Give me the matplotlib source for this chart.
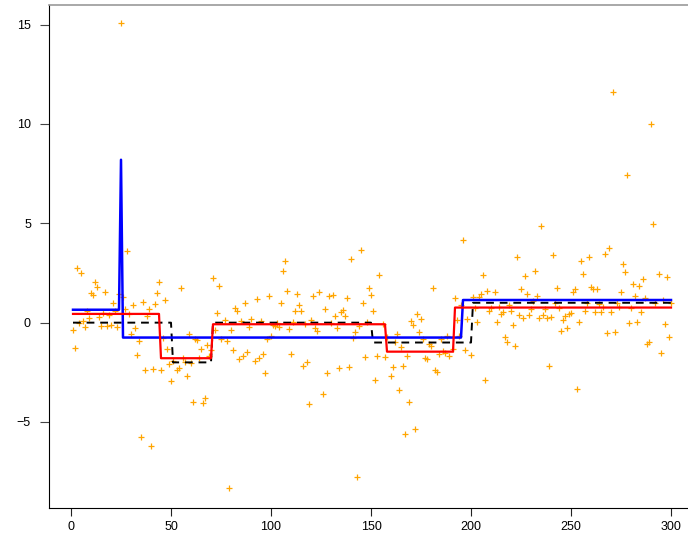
import matplotlib
matplotlib.use("Agg")
import matplotlib.pyplot as plt
import numpy as np

obs_x = [1, 2, 3, 4, 5, 6, 7, 8, 9, 10, 11, 12, 13, 14, 15, 16, 17, 18, 19, 20,
         21, 22, 23, 24, 25, 26, 27, 28, 29, 30, 31, 32, 33, 34, 35, 36, 37, 38, 39, 40,
         41, 42, 43, 44, 45, 46, 47, 48, 49, 50,
         51, 53, 54, 55, 56, 57, 58, 59, 60, 61, 62, 63, 64, 65, 66, 67, 68, 69, 70,
         71, 72, 73, 74, 75, 77, 78, 79, 80, 81, 82, 83, 84, 85, 86, 87, 88, 89, 90,
         92, 93, 94, 95, 96, 97, 98, 99, 100,
         101, 102, 103, 104, 105, 106, 107, 108, 109, 110, 111, 112, 113, 114, 115, 116,
         117, 118, 119, 120, 121, 122, 123, 124, 126, 127, 128, 129, 130, 131, 132, 133,
         134, 135, 136, 137, 138, 139, 140, 141, 142, 143, 144, 145, 146, 147, 148, 149, 150,
         151, 152, 153, 154, 156, 157, 158, 160, 161, 162, 163, 164, 165, 166, 167, 168,
         169, 170, 171, 172, 173, 174, 175, 176, 177, 178, 179, 180, 181, 182, 183, 184,
         185, 186, 187, 188, 189, 191, 192, 193, 194, 195, 196, 197, 198, 200,
         201, 202, 203, 204, 205, 206, 207, 208, 209, 210, 212, 213, 214, 215, 216, 217,
         218, 219, 220, 221, 222, 223, 224, 225, 226, 227, 228, 229, 230, 231, 232, 233,
         234, 235, 236, 237, 238, 239, 240, 241, 242, 243, 244, 245, 246, 247, 248, 249, 250,
         251, 252, 253, 254, 255, 256, 257, 258, 259, 260, 261, 262, 263, 264, 265, 266,
         267, 268, 269, 270, 271, 272, 273, 274, 275, 276, 277, 278, 279, 280, 281, 282,
         283, 284, 285, 286, 287, 288, 289, 290, 291, 292, 294, 295, 296, 297, 298, 299, 300]
obs_y = [-0.37, -1.29, 2.74, 0.0, 2.49, 0.09, -0.23, 0.59, 0.22, 1.48,
         1.39, 2.03, 1.78, 0.27, -0.17, 0.47, 1.53, -0.17, 0.39, -0.13,
         1.0, 0.59, -0.23, 1.44, 15.07, 1.29, 0.7, 3.6, 0.44, -0.59,
         0.87, -0.27, -1.63, -0.92, -5.77, 1.03, -2.38, 0.32, 0.67, -6.2,
         -2.33, 0.94, 1.48, 2.03, -2.38, -0.77, 1.13, -1.34, -2.1, -2.93,
         -1.93, -2.38, -2.26, 1.73, -1.79, -1.99, -2.68, -0.58, -2.04, -4.01,
         -0.84, -0.86, -1.79, -1.32, -4.06, -3.79, -1.14, -1.66, -1.37,
         2.23, -0.37, 0.49, 1.85, -0.84, 0.12, -0.92, -8.32, -0.37, -1.39,
         0.74, 0.59, -1.83, 0.09, -1.66, 0.99, -1.49, -0.23, 0.19,
         -1.93, 1.19, -1.76, 0.08, -1.58, -2.55, -0.84, 1.34, -0.67,
         -0.12, -0.17, -0.03, -0.23, 0.99, 2.59, 3.09, 1.6, -0.33, -1.59,
         0.05, 0.59, 1.44, 0.87, 0.59, -2.18, -0.08, -1.99, -4.09, 0.14,
         1.34, -0.28, -0.4, 1.53, -3.59, 0.69, -2.55, 1.34, -0.01, 1.39,
         0.34, -0.28, -2.28, 0.55, 0.64, 0.35, 1.23, -2.23, 3.21, -0.79,
         -0.48, -7.77, -0.18, 3.66, 0.99, -1.74, 0.05, 1.73, 1.39,
         0.59, -2.88, -1.68, 2.4, -0.07, -1.73, -0.74, -2.68, -2.21, -0.99,
         -0.57, -3.39, -1.21, -2.18, -5.6, -1.68, -4.01, 0.1, -0.12, -5.35,
         0.44, -0.45, 0.19, -0.82, -1.76, -1.84, -1.07, -1.16, 1.73, -2.38,
         -2.5, -1.59, -0.84, -1.41, -1.51, -0.67, -1.68, -1.32, 1.23, 0.14,
         -0.67, 0.89, 4.16, -1.37, 0.19, -1.63,
         1.28, 0.76, 0.05, 1.31, 1.43, 2.4, -2.88, 1.6, 0.6, 0.72,
         1.55, 0.02, 0.79, 0.44, 0.52, -0.74, -0.99, 0.89, 0.59, -0.12,
         -1.17, 3.29, 0.39, 1.7, 0.22, 2.35, 1.43, 0.39, 0.7, 1.09,
         2.6, 1.34, 0.22, 4.87, 0.39, 0.67, 0.22, -2.18, 0.27, 3.41,
         1.01, 1.76, 0.72, -0.4, 0.14, 0.34, -0.28, 0.42, 0.47,
         1.53, 1.7, -3.34, 0.05, 3.1, 2.44, 0.6, 0.98, 3.29, 1.81,
         1.7, 0.52, 1.68, 0.94, 0.55, 0.81, 3.44, -0.53, 3.74, 0.55,
         11.6, -0.45, 0.98, 0.81, 1.53, 2.94, 2.54, 7.42, -0.03, 0.72,
         1.93, 1.34, 0.05, 1.86, 0.55, 2.2, 1.23, -1.09, -0.95, 9.98,
         4.95, 0.98, 2.44, -1.54, 1.14, -0.08, 2.28, -0.74, 0.98]

# step levels: (first x, last x, value)
truth_steps = [(1, 50, 0.0), (51, 70, -2.0), (71, 150, 0.0), (151, 200, -1.0), (201, 300, 1.0)]
red_steps = [(1, 44, 0.44), (45, 70, -1.79), (71, 157, -0.08), (158, 191, -1.46), (192, 300, 0.76)]
blue_steps = [(1, 24, 0.65), (25, 25, 8.2), (26, 195, -0.75), (196, 300, 1.14)]


def expand(steps):
    xs, ys = [], []
    for a, b, v in steps:
        for i in range(a, b + 1):
            xs.append(i)
            ys.append(v)
    return xs, ys


fig = plt.figure(figsize=(6.88, 5.35), dpi=100)
ax = fig.add_axes([49 / 688, 27 / 535, 1 - 49 / 688, 503 / 535])

ax.plot(obs_x, obs_y, linestyle="none", marker="+", color="#FFA500",
        markersize=5, markeredgewidth=0.9)

tx, ty = expand(truth_steps)
ax.plot(tx, ty, color="black", linestyle=(0, (4, 3)), linewidth=1.4)
bx, by = expand(blue_steps)
ax.plot(bx, by, color="blue", linewidth=1.8)
rx, ry = expand(red_steps)
ax.plot(rx, ry, color="red", linewidth=1.6)

ax.set_xlim(-11, 308.5)
ax.set_ylim(-9.33, 15.99)
ax.set_xticks([0, 50, 100, 150, 200, 250, 300])
ax.set_yticks([-5, 0, 5, 10, 15])
ax.set_yticklabels(["\u22125", "0", "5", "10", "15"])

for lab in ax.get_xticklabels() + ax.get_yticklabels():
    lab.set_family(["Liberation Sans", "DejaVu Sans"])
    lab.set_fontsize(9)

ax.tick_params(axis="y", length=6.5, width=0.8, pad=6.5, color="#444444")
ax.tick_params(axis="x", length=6, width=0.8, pad=3, color="#222222")
ax.spines["right"].set_visible(False)
ax.spines["top"].set_color("#999999")
ax.spines["top"].set_linewidth(1.2)
ax.spines["left"].set_color("black")
ax.spines["bottom"].set_color("black")

fig.savefig("out.png", dpi=100)
